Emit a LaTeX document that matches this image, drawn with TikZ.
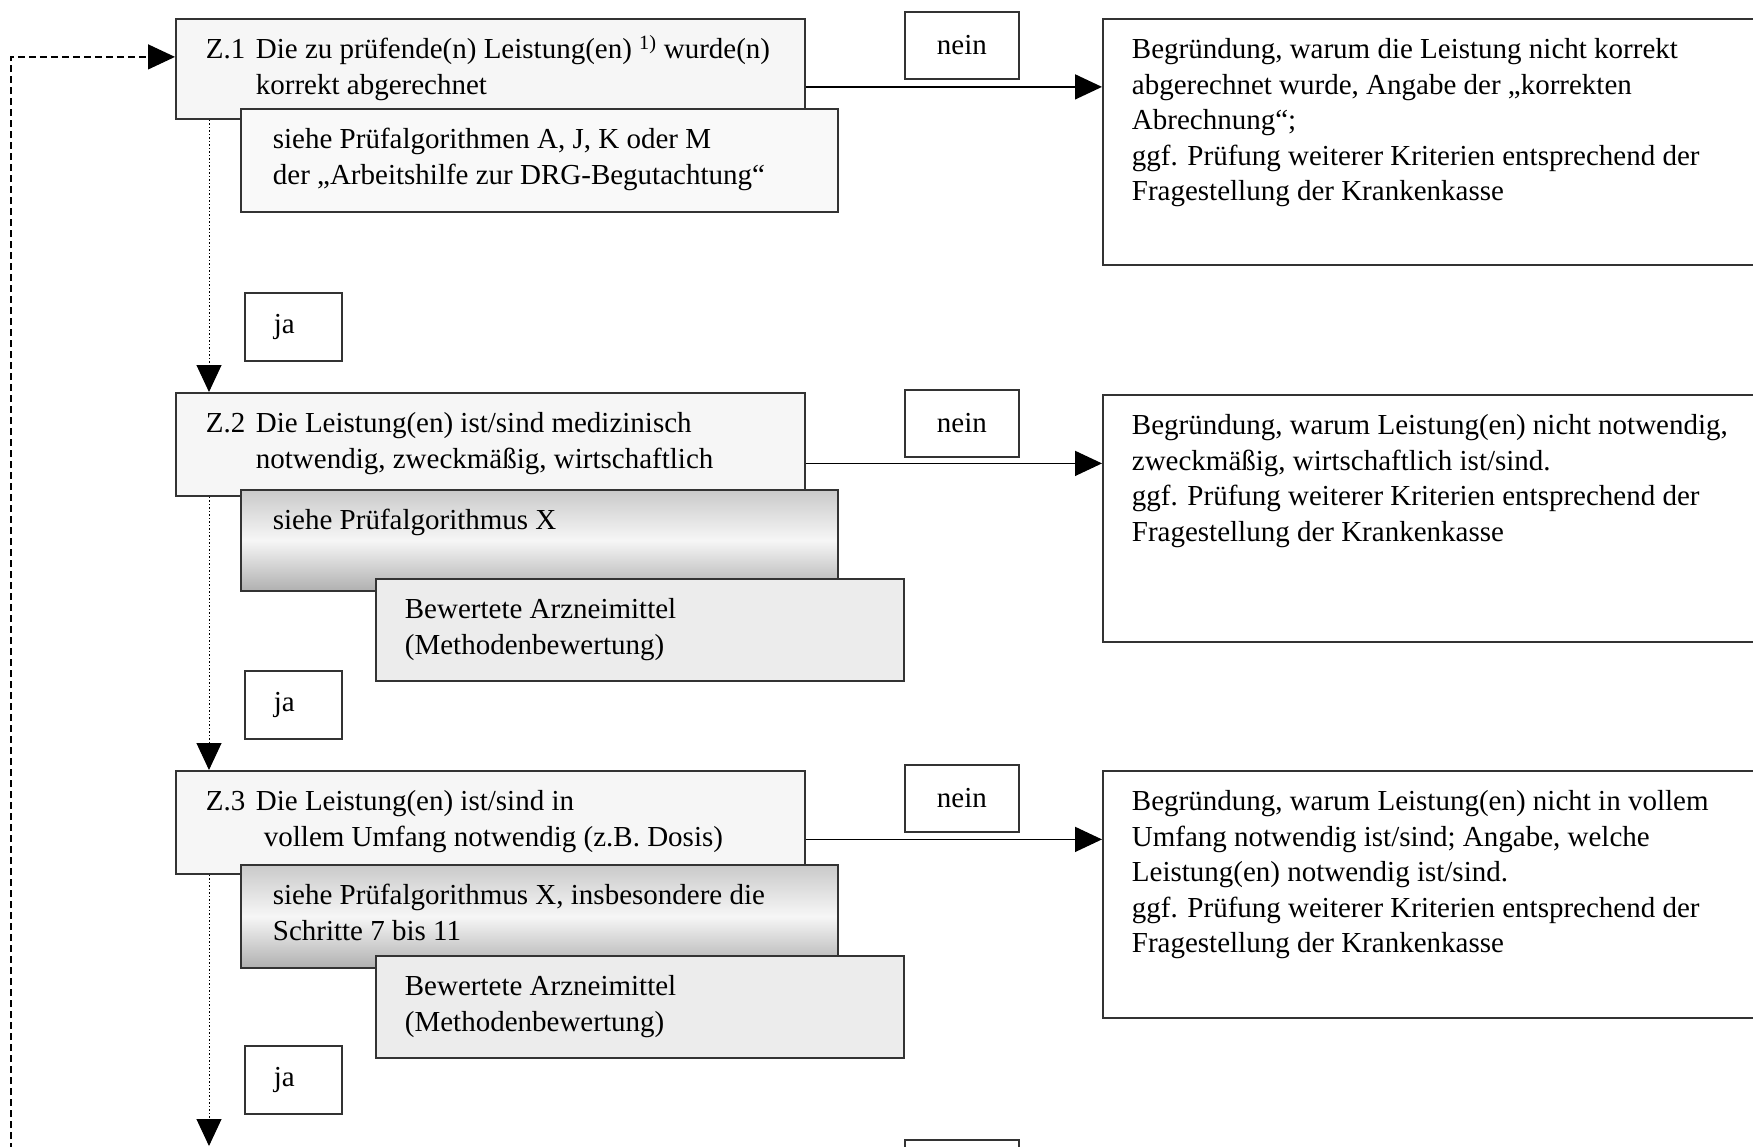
\documentclass[tikz,border=0pt]{standalone}
\usepackage{fontspec}
\setmainfont{Liberation Serif}
\usetikzlibrary{arrows.meta,calc}
\newcommand{\boxtxt}[4]{\parbox[t][#2][t]{#1}{\vspace*{15pt}\leftskip=#3\relax\parindent=0pt\rightskip=0pt plus 1fil\relax\strut #4}}
\tikzset{
  box/.style={draw=black!80, line width=1.8pt, inner sep=0pt, anchor=north west,
    font=\fontsize{29pt}{35.5pt}\selectfont},
  zbox/.style={box, fill=gray!7},
  subbox/.style={box, fill=gray!5},
  gradbox/.style={box, top color=gray!42, bottom color=gray!62, middle color=gray!7},
  bewbox/.style={box, fill=gray!15},
  resbox/.style={box, fill=white},
  lblbox/.style={box, fill=white, minimum width=114pt, minimum height=67pt},
  jabox/.style={box, fill=white, minimum width=97pt, minimum height=68pt},
  arr/.style={line width=1.6pt, -{Triangle[length=27pt,width=25pt]}},
  dotarr/.style={line width=1pt, dash pattern=on 1.5pt off 2pt, -{Triangle[length=27pt,width=25pt]}},
  dasharr/.style={line width=1.3pt, dash pattern=on 7pt off 4pt, -{Triangle[length=27pt,width=25pt]}},
}
\begin{document}
\begin{tikzpicture}[x=1pt,y=-1pt]
\useasboundingbox (0,0) rectangle (1753,1146);
\clip (0,0) rectangle (1753,1146);
\fill[white] (0,0) rectangle (1753,1146);

% ---- Z.1
\node[zbox] (z1) at (175,18) {\boxtxt{629pt}{100pt}{30pt}{\makebox[50pt][l]{Z.1}Die zu prüfende(n) Leistung(en) \textsuperscript{1)} wurde(n)\\\hspace*{50pt}korrekt abgerechnet}};
\node[subbox] (s1) at (240,108) {\boxtxt{597pt}{103pt}{32pt}{siehe Prüfalgorithmen A, J, K oder M\\der „Arbeitshilfe zur DRG-Begutachtung“}};
\node[lblbox] (n1) at (904,11) {nein};
\node[resbox] (r1) at (1102,18) {\boxtxt{700pt}{246pt}{29pt}{Begründung, warum die Leistung nicht korrekt\\abgerechnet wurde, Angabe der „korrekten\\Abrechnung“;\\ggf. Prüfung weiterer Kriterien entsprechend der\\Fragestellung der Krankenkasse}};
\node[jabox] (j1) at (244,292) {\makebox[97pt][l]{\hspace{29pt}ja}};

% ---- Z.2
\node[zbox] (z2) at (175,392) {\boxtxt{629pt}{103pt}{30pt}{\makebox[50pt][l]{Z.2}Die Leistung(en) ist/sind medizinisch\\\hspace*{50pt}notwendig, zweckmäßig, wirtschaftlich}};
\node[gradbox] (g2) at (240,489) {\boxtxt{597pt}{101pt}{32pt}{siehe Prüfalgorithmus X}};
\node[bewbox] (b2) at (375,578) {\boxtxt{528pt}{102pt}{29pt}{Bewertete Arzneimittel\\(Methodenbewertung)}};
\node[lblbox] (n2) at (904,389) {nein};
\node[resbox] (r2) at (1102,394) {\boxtxt{700pt}{247pt}{29pt}{Begründung, warum Leistung(en) nicht notwendig,\\zweckmäßig, wirtschaftlich ist/sind.\\ggf. Prüfung weiterer Kriterien entsprechend der\\Fragestellung der Krankenkasse}};
\node[jabox] (j2) at (244,670) {\makebox[97pt][l]{\hspace{29pt}ja}};

% ---- Z.3
\node[zbox] (z3) at (175,770) {\boxtxt{629pt}{103pt}{30pt}{\makebox[50pt][l]{Z.3}Die Leistung(en) ist/sind in\\\hspace*{58pt}vollem Umfang notwendig (z.B. Dosis)}};
\node[gradbox] (g3) at (240,864) {\boxtxt{597pt}{103pt}{32pt}{siehe Prüfalgorithmus X, insbesondere die\\Schritte 7 bis 11}};
\node[bewbox] (b3) at (375,955) {\boxtxt{528pt}{102pt}{29pt}{Bewertete Arzneimittel\\(Methodenbewertung)}};
\node[lblbox] (n3) at (904,764) {nein};
\node[resbox] (r3) at (1102,770) {\boxtxt{700pt}{247pt}{29pt}{Begründung, warum Leistung(en) nicht in vollem\\Umfang notwendig ist/sind; Angabe, welche\\Leistung(en) notwendig ist/sind.\\ggf. Prüfung weiterer Kriterien entsprechend der\\Fragestellung der Krankenkasse}};
\node[jabox] (j3) at (244,1045) {\makebox[97pt][l]{\hspace{29pt}ja}};

% ---- partially visible next label
\node[lblbox] (n4) at (904,1139) {};

% ---- connectors
\coordinate (a1) at ([yshift=-18pt]z1.east);
\draw[arr] (a1) -- (a1 -| r1.west);
\coordinate (a2) at ([yshift=-19pt]z2.east);
\draw[arr] (a2) -- (a2 -| r2.west);
\coordinate (a3) at ([yshift=-17pt]z3.east);
\draw[arr] (a3) -- (a3 -| r3.west);

\draw[dotarr] ([xshift=34pt]z1.south west) -- ([xshift=34pt]z2.north west);
\draw[dotarr] ([xshift=34pt]z2.south west) -- ([xshift=34pt]z3.north west);
\coordinate (z4top) at (209,1146);
\draw[dotarr] ([xshift=34pt]z3.south west) -- (z4top);

\coordinate (loopstart) at (11,1150);
\draw[dasharr] (loopstart) |- ([yshift=12pt]z1.west);
\end{tikzpicture}
\end{document}
